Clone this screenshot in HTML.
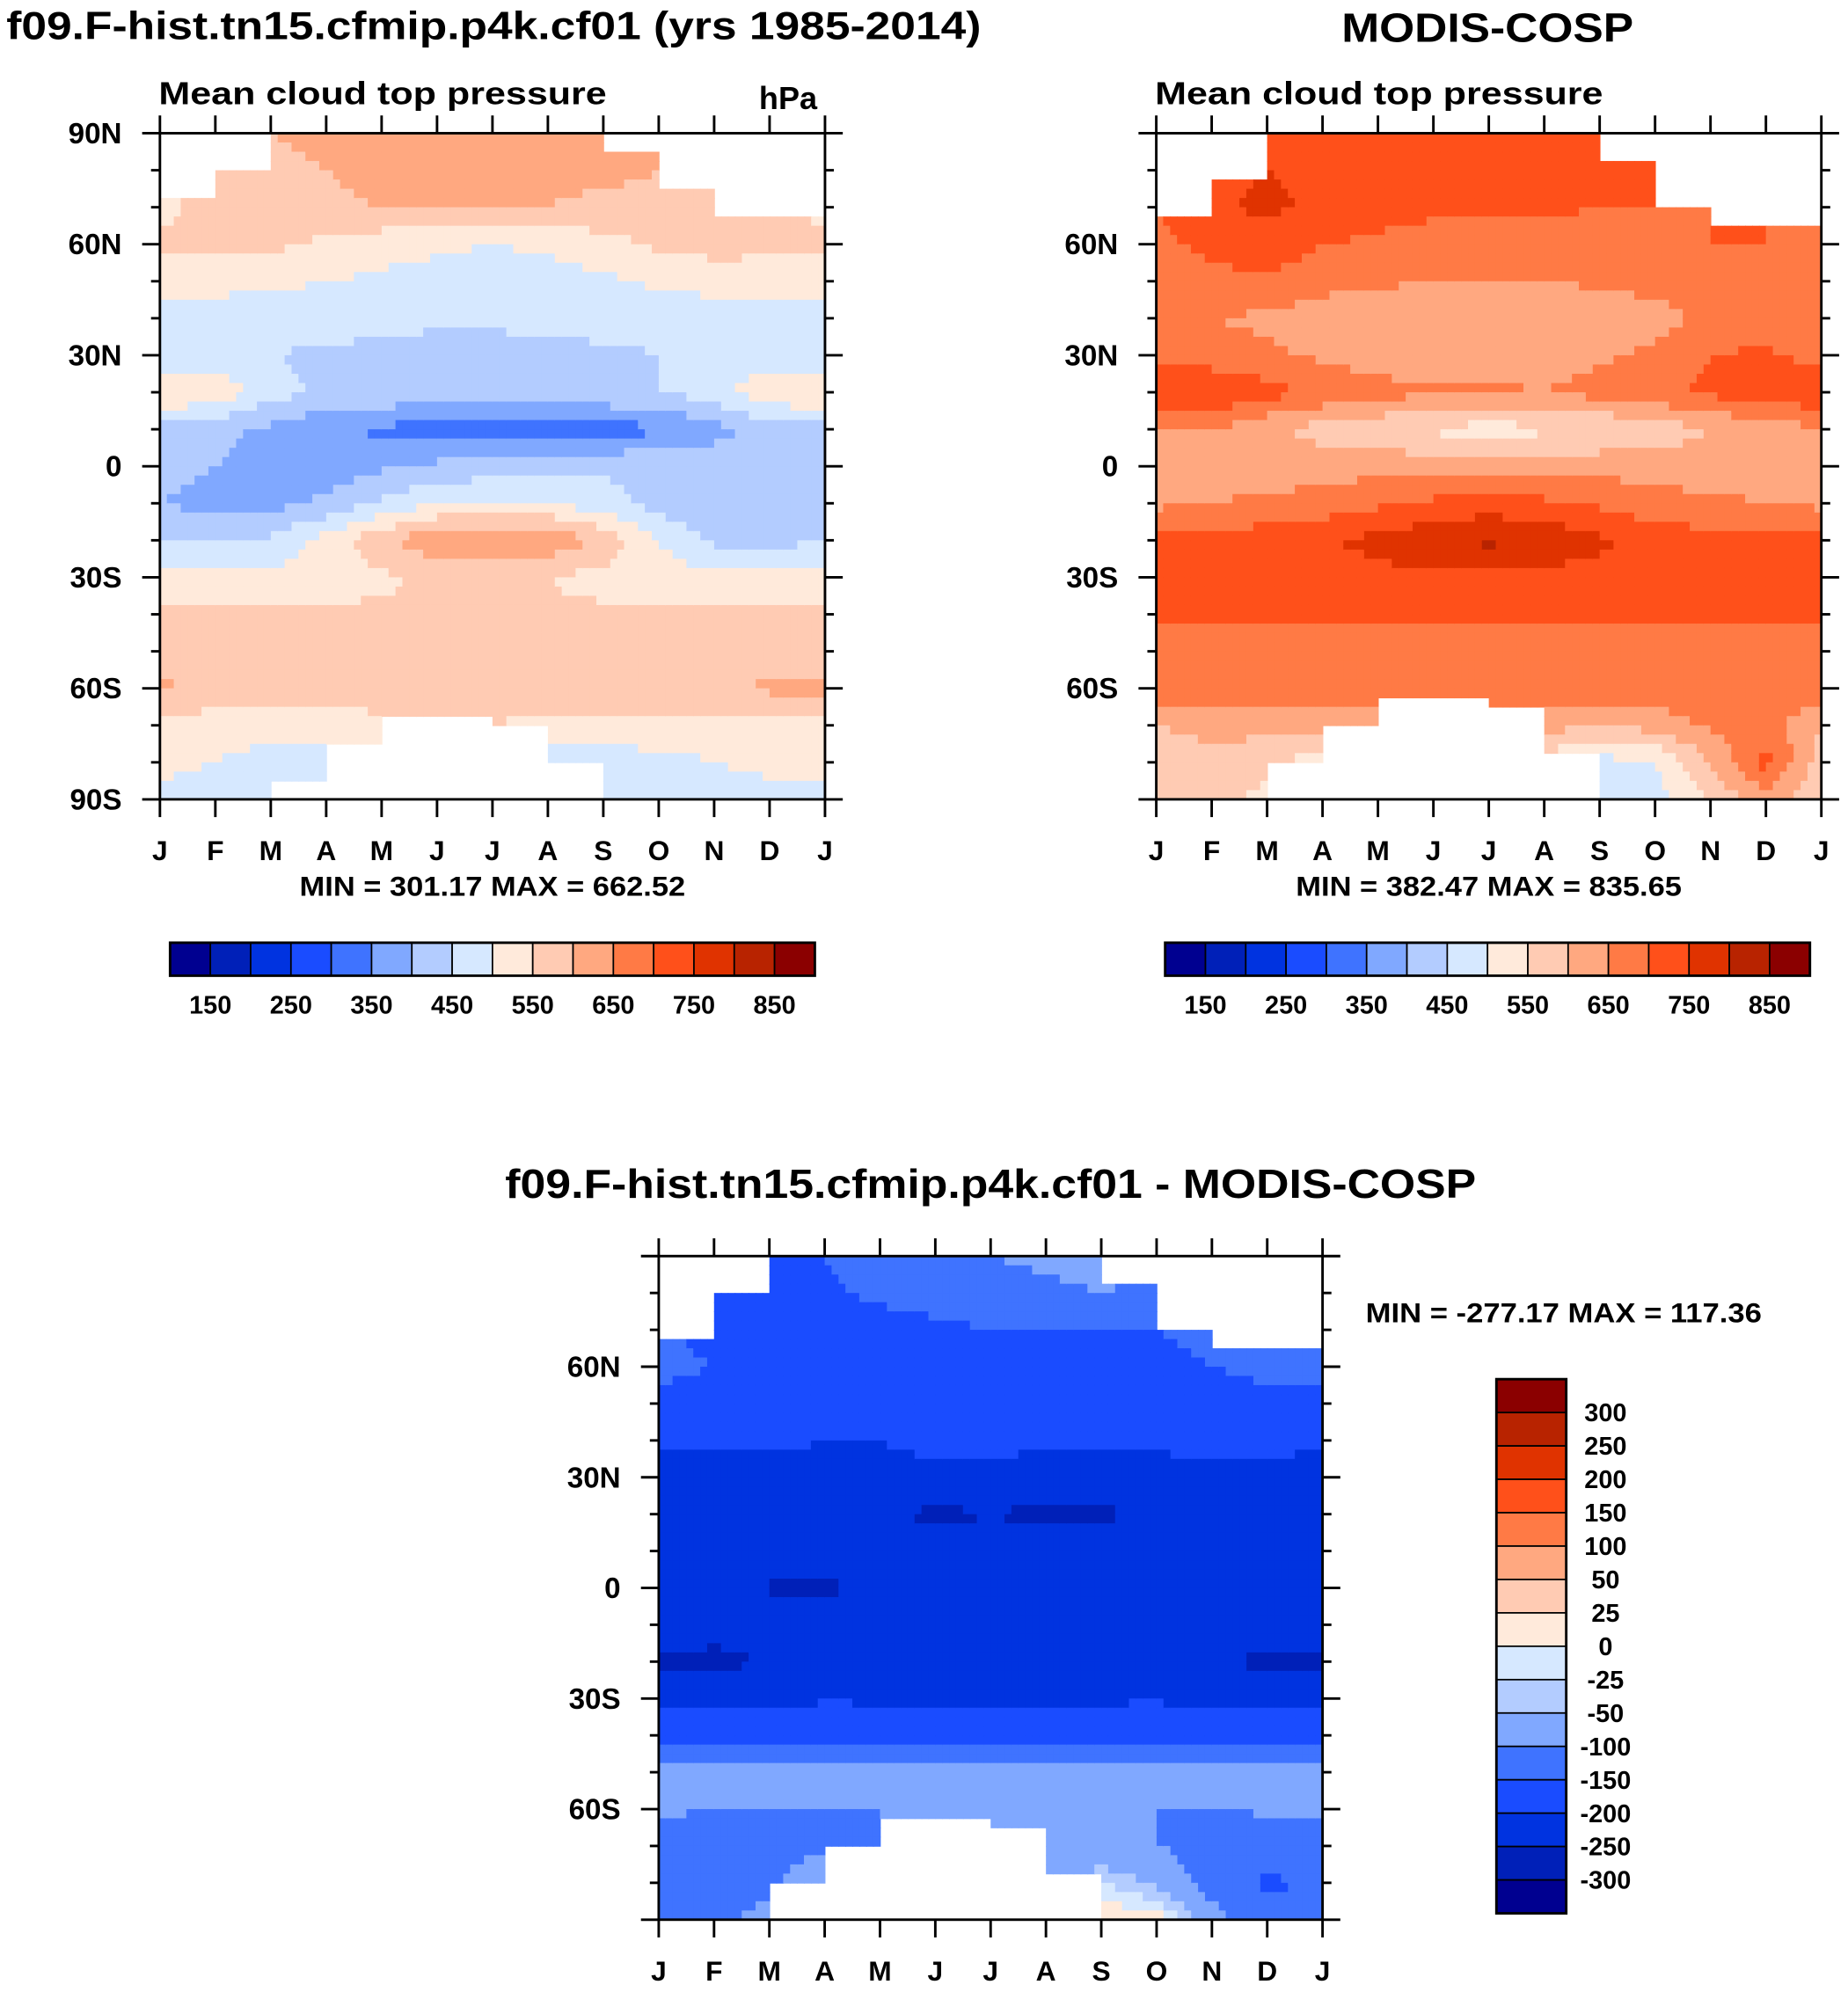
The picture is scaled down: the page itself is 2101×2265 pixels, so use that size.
<!DOCTYPE html>
<html><head><meta charset="utf-8"><style>
html,body{margin:0;padding:0;background:#fff}
svg{display:block}
text{font-family:"Liberation Sans",Arial,sans-serif;font-weight:bold;fill:#000}
</style></head><body>
<svg id="fig" xmlns="http://www.w3.org/2000/svg" width="2101" height="2265" viewBox="0 0 1456 1570" preserveAspectRatio="none">
<text x="5" y="31" font-size="31" textLength="768" lengthAdjust="spacingAndGlyphs">f09.F-hist.tn15.cfmip.p4k.cf01 (yrs 1985-2014)</text>
<text x="1057" y="33" font-size="32" textLength="230" lengthAdjust="spacingAndGlyphs">MODIS-COSP</text>
<text x="125" y="82" font-size="25" textLength="353" lengthAdjust="spacingAndGlyphs">Mean cloud top pressure</text>
<text x="598" y="86" font-size="25">hPa</text>
<text x="910" y="82" font-size="25" textLength="353" lengthAdjust="spacingAndGlyphs">Mean cloud top pressure</text>
<text x="236" y="706" font-size="22" textLength="304" lengthAdjust="spacingAndGlyphs">MIN = 301.17 MAX = 662.52</text>
<text x="1021" y="706" font-size="22" textLength="304" lengthAdjust="spacingAndGlyphs">MIN = 382.47 MAX = 835.65</text>
<text x="398" y="944" font-size="32" textLength="765" lengthAdjust="spacingAndGlyphs">f09.F-hist.tn15.cfmip.p4k.cf01 - MODIS-COSP</text>
<text x="1076" y="1042" font-size="22" textLength="312" lengthAdjust="spacingAndGlyphs">MIN = -277.17 MAX = 117.36</text>
<g id="layer"></g>
</svg>
<script>
const months = ["J","F","M","A","M","J","J","A","S","O","N","D","J"];
const lats = [90,80,70,60,50,40,30,20,10,0,-10,-20,-30,-40,-50,-60,-70,-80,-90];
const colors = ["#000090","#0020b8","#0033e0","#1a4cff","#3f73ff","#80a8ff","#b3ccff","#d6e8ff","#ffeadb","#ffcbb3","#ffa880","#ff7a45","#ff501a","#e03300","#b82300","#8b0000"];
const levelsAbs = [150,200,250,300,350,400,450,500,550,600,650,700,750,800,850];
const levelsDiff = [-300,-250,-200,-150,-100,-50,-25,0,25,50,100,150,200,250,300];
const absTickLabels = ["150","250","350","450","550","650","750","850"];
const diffTickLabels = ["300","250","200","150","100","50","25","0","-25","-50","-100","-150","-200","-250","-300"];

const modelVals = [
[590,590,600,610,630,640,640,630,620,600,590,580,590],
[570,580,590,600,620,620,620,610,610,600,580,570,570],
[540,560,580,590,600,610,600,600,590,590,570,560,540],
[560,560,560,540,520,510,500,510,530,560,570,560,560],
[530,520,510,500,490,480,470,480,490,510,520,530,530],
[470,470,470,480,470,460,460,470,470,470,470,470,470],
[460,460,450,440,430,430,430,430,440,450,460,470,460],
[560,540,470,440,440,430,430,430,440,450,480,540,560],
[420,410,390,360,340,330,330,330,330,340,380,420,420],
[420,400,380,370,390,410,420,430,440,440,430,420,420],
[400,380,380,410,460,500,510,500,470,430,400,400,400],
[450,440,460,520,590,640,650,640,590,500,440,430,450],
[520,520,510,520,540,560,560,550,530,520,520,520,520],
[560,560,560,560,560,560,560,560,560,560,560,560,560],
[570,570,570,570,570,570,570,570,570,570,570,570,570],
[610,590,570,570,570,570,570,570,570,570,580,610,610],
[530,520,520,530,540,550,550,540,540,540,540,540,530],
[520,500,480,470,470,480,480,470,470,480,500,520,520],
[480,470,460,460,460,460,460,460,460,460,460,470,480]];
const modelMissTop = [72,81,90,90,90,90,90,90,86,75,68,68];
const modelMissBot = [-90,-90,-86,-75,-68,-68,-71,-80,-90,-90,-90,-90];

const obsVals = [
[720,730,740,740,730,730,730,730,730,720,720,720,720],
[710,740,750,740,730,730,730,730,720,720,710,700,710],
[700,740,760,740,720,710,710,710,700,700,700,700,700],
[690,710,730,700,690,680,680,670,680,690,700,700,690],
[680,690,690,670,660,650,650,650,660,670,680,680,680],
[650,650,640,620,610,600,600,600,610,630,660,670,650],
[680,670,660,640,620,620,620,620,640,660,700,710,680],
[740,750,720,690,670,660,660,650,670,690,710,730,740],
[650,650,610,580,560,540,530,540,550,570,600,620,650],
[640,620,620,630,630,630,630,630,630,630,620,630,640],
[640,650,660,670,690,710,720,710,690,670,660,650,640],
[710,715,730,745,765,790,810,790,760,730,715,710,710],
[720,720,725,730,735,740,740,735,730,725,720,720,720],
[705,705,705,705,705,705,705,705,705,705,705,705,705],
[690,690,690,690,690,690,690,690,690,690,690,690,690],
[680,680,680,680,680,680,680,680,680,680,680,680,680],
[600,620,620,620,630,640,640,620,600,620,660,680,600],
[570,580,560,520,520,520,520,520,480,500,600,720,570],
[560,560,540,480,480,480,480,480,450,480,560,620,560]];
const obsMissTop = [68,78,90,90,90,90,90,90,83,71,64,64];
const obsMissBot = [-90,-90,-81,-70,-62,-62,-66,-77,-90,-90,-90,-90];

const diffVals = [
[-150,-160,-160,-150,-120,-110,-100,-90,-80,-90,-120,-130,-150],
[-150,-170,-170,-160,-140,-130,-120,-110,-100,-110,-140,-150,-150],
[-140,-170,-180,-180,-170,-160,-150,-150,-150,-150,-140,-130,-140],
[-130,-150,-170,-180,-190,-190,-190,-180,-170,-160,-150,-130,-130],
[-170,-180,-190,-190,-180,-180,-170,-180,-190,-190,-180,-170,-170],
[-190,-190,-190,-200,-200,-190,-180,-190,-190,-190,-180,-180,-190],
[-220,-220,-220,-220,-210,-210,-220,-230,-220,-220,-220,-230,-220],
[-220,-220,-230,-240,-240,-260,-250,-260,-260,-240,-230,-230,-220],
[-210,-210,-215,-215,-220,-230,-230,-230,-220,-215,-210,-210,-210],
[-215,-230,-255,-258,-245,-230,-225,-225,-225,-215,-215,-215,-215],
[-220,-230,-225,-215,-210,-210,-210,-210,-210,-210,-215,-225,-220],
[-255,-265,-245,-225,-215,-210,-210,-210,-215,-225,-245,-260,-255],
[-220,-220,-210,-205,-205,-205,-205,-205,-205,-205,-210,-220,-220],
[-160,-160,-160,-160,-170,-170,-170,-170,-170,-160,-160,-160,-160],
[-90,-90,-90,-90,-90,-90,-90,-90,-90,-90,-90,-90,-90],
[-95,-100,-100,-100,-100,-100,-100,-100,-100,-100,-100,-95,-95],
[-110,-120,-120,-110,-100,-100,-100,-100,-90,-100,-120,-130,-110],
[-140,-150,-110,-60,-60,-60,-60,-60,-20,-60,-120,-160,-140],
[-120,-110,-80,-40,-40,-40,-40,-40,20,20,-80,-130,-120]];
const diffMissTop = [68,79,90,90,90,90,90,90,83,70,64,64];
const diffMissBot = [-90,-90,-80,-69,-62,-62,-66,-77,-90,-90,-90,-90];

const NS = "http://www.w3.org/2000/svg";
const layer = document.getElementById("layer");
function mk(tag, attrs, parent) {
  const e = document.createElementNS(NS, tag);
  for (const k in attrs) e.setAttribute(k, attrs[k]);
  (parent || layer).appendChild(e);
  return e;
}
function colorFor(v, levels) {
  let i = 0;
  while (i < levels.length && v >= levels[i]) i++;
  return colors[i];
}
function sample(vals, m, lat) {
  const r = (90 - lat) / 10, r0 = Math.min(17, Math.floor(r)), fr = r - r0;
  const c0 = Math.min(11, Math.floor(m)), fc = m - c0;
  const a = vals[r0][c0], b = vals[r0][c0 + 1], c = vals[r0 + 1][c0], d = vals[r0 + 1][c0 + 1];
  return (a * (1 - fc) + b * fc) * (1 - fr) + (c * (1 - fc) + d * fc) * fr;
}
function panel(name, x0, y0, w, h, vals, missTop, missBot, levels, yLabels) {
  const g = mk("g", {});
  
  
  const xs = m => x0 + m / 12 * w;
  const ys = lat => y0 + (90 - lat) / 180 * h;
  const SC = 8, SR = 4;
  for (let mi = 0; mi < 12; mi++) {
    for (let s = 0; s < SC; s++) {
      const m = mi + (s + 0.5) / SC;
      for (let li = 0; li < 18 * SR; li++) {
        const lat = 90 - (li + 0.5) * 10 / SR;
        if (lat > missTop[mi] || lat < missBot[mi]) continue;
        const v = sample(vals, m, lat);
        const r = mk("rect", {x: xs(mi + s / SC).toFixed(2), y: ys(90 - li * 10 / SR).toFixed(2),
          width: (w / 12 / SC + 0.6).toFixed(2), height: (h / 18 / SR + 0.6).toFixed(2), fill: colorFor(v, levels)}, g);
        
        
      }
    }
  }
  mk("rect", {x: x0 + w, y: y0 - 2, width: 3, height: h + 4, fill: "#fff"}, g);
  mk("rect", {x: x0 - 2, y: y0 + h, width: w + 4, height: 3, fill: "#fff"}, g);
  const frame = mk("rect", {x: x0, y: y0, width: w, height: h, fill: "none", stroke: "#000", "stroke-width": 2}, g);
  
  
  for (let i = 0; i <= 12; i++) {
    const x = xs(i);
    mk("line", {x1: x, x2: x, y1: y0, y2: y0 - 14, stroke: "#000", "stroke-width": 2}, g);
    mk("line", {x1: x, x2: x, y1: y0 + h, y2: y0 + h + 14, stroke: "#000", "stroke-width": 2}, g);
    const t = mk("text", {x: x, y: y0 + h + 48, "font-size": 22, "text-anchor": "middle"}, g);
    t.textContent = months[i];
    
    
  }
  for (let lat = -90; lat <= 90; lat += 10) {
    const y = ys(lat), major = lat % 30 === 0, L = major ? 14 : 7;
    mk("line", {x1: x0, x2: x0 - L, y1: y, y2: y, stroke: "#000", "stroke-width": 2}, g);
    mk("line", {x1: x0 + w, x2: x0 + w + L, y1: y, y2: y, stroke: "#000", "stroke-width": 2}, g);
    if (major && (yLabels || Math.abs(lat) !== 90)) {
      const t = mk("text", {x: x0 - 30, y: y + 8, "font-size": 23, "text-anchor": "end"}, g);
      t.textContent = lat === 0 ? "0" : Math.abs(lat) + (lat > 0 ? "N" : "S");
      
      
    }
  }
}
function hbar(name, x0, y0, w, h) {
  const g = mk("g", {});
  
  
  const bw = w / colors.length;
  colors.forEach((c, i) => {
    const r = mk("rect", {x: x0 + i * bw, y: y0, width: bw, height: h, fill: c, stroke: "#000", "stroke-width": 1.2}, g);
    
    
  });
  mk("rect", {x: x0, y: y0, width: w, height: h, fill: "none", stroke: "#000", "stroke-width": 2}, g);
  absTickLabels.forEach((lab, j) => {
    const t = mk("text", {x: x0 + (1 + 2 * j) * bw, y: y0 + h + 30, "font-size": 20, "text-anchor": "middle"}, g);
    t.textContent = lab;
    
    
  });
}
function vbar(name, x0, y0, w, h) {
  const g = mk("g", {});
  
  
  const bh = h / colors.length;
  colors.slice().reverse().forEach((c, i) => {
    const r = mk("rect", {x: x0, y: y0 + i * bh, width: w, height: bh, fill: c, stroke: "#000", "stroke-width": 1.2}, g);
    
    
  });
  mk("rect", {x: x0, y: y0, width: w, height: h, fill: "none", stroke: "#000", "stroke-width": 2}, g);
  diffTickLabels.forEach((lab, j) => {
    const t = mk("text", {x: x0 + w + 31, y: y0 + (j + 1) * bh + 7, "font-size": 20, "text-anchor": "middle"}, g);
    t.textContent = lab;
    
    
  });
}
panel("model", 126, 105, 524, 525, modelVals, modelMissTop, modelMissBot, levelsAbs, true);
panel("obs", 911, 105, 524, 525, obsVals, obsMissTop, obsMissBot, levelsAbs, false);
panel("diff", 519, 990, 523, 523, diffVals, diffMissTop, diffMissBot, levelsDiff, false);
hbar("model-colorbar", 134, 743, 508, 26);
hbar("obs-colorbar", 918, 743, 508, 26);
vbar("diff-colorbar", 1179, 1087, 55, 421);
</script>
</body></html>
